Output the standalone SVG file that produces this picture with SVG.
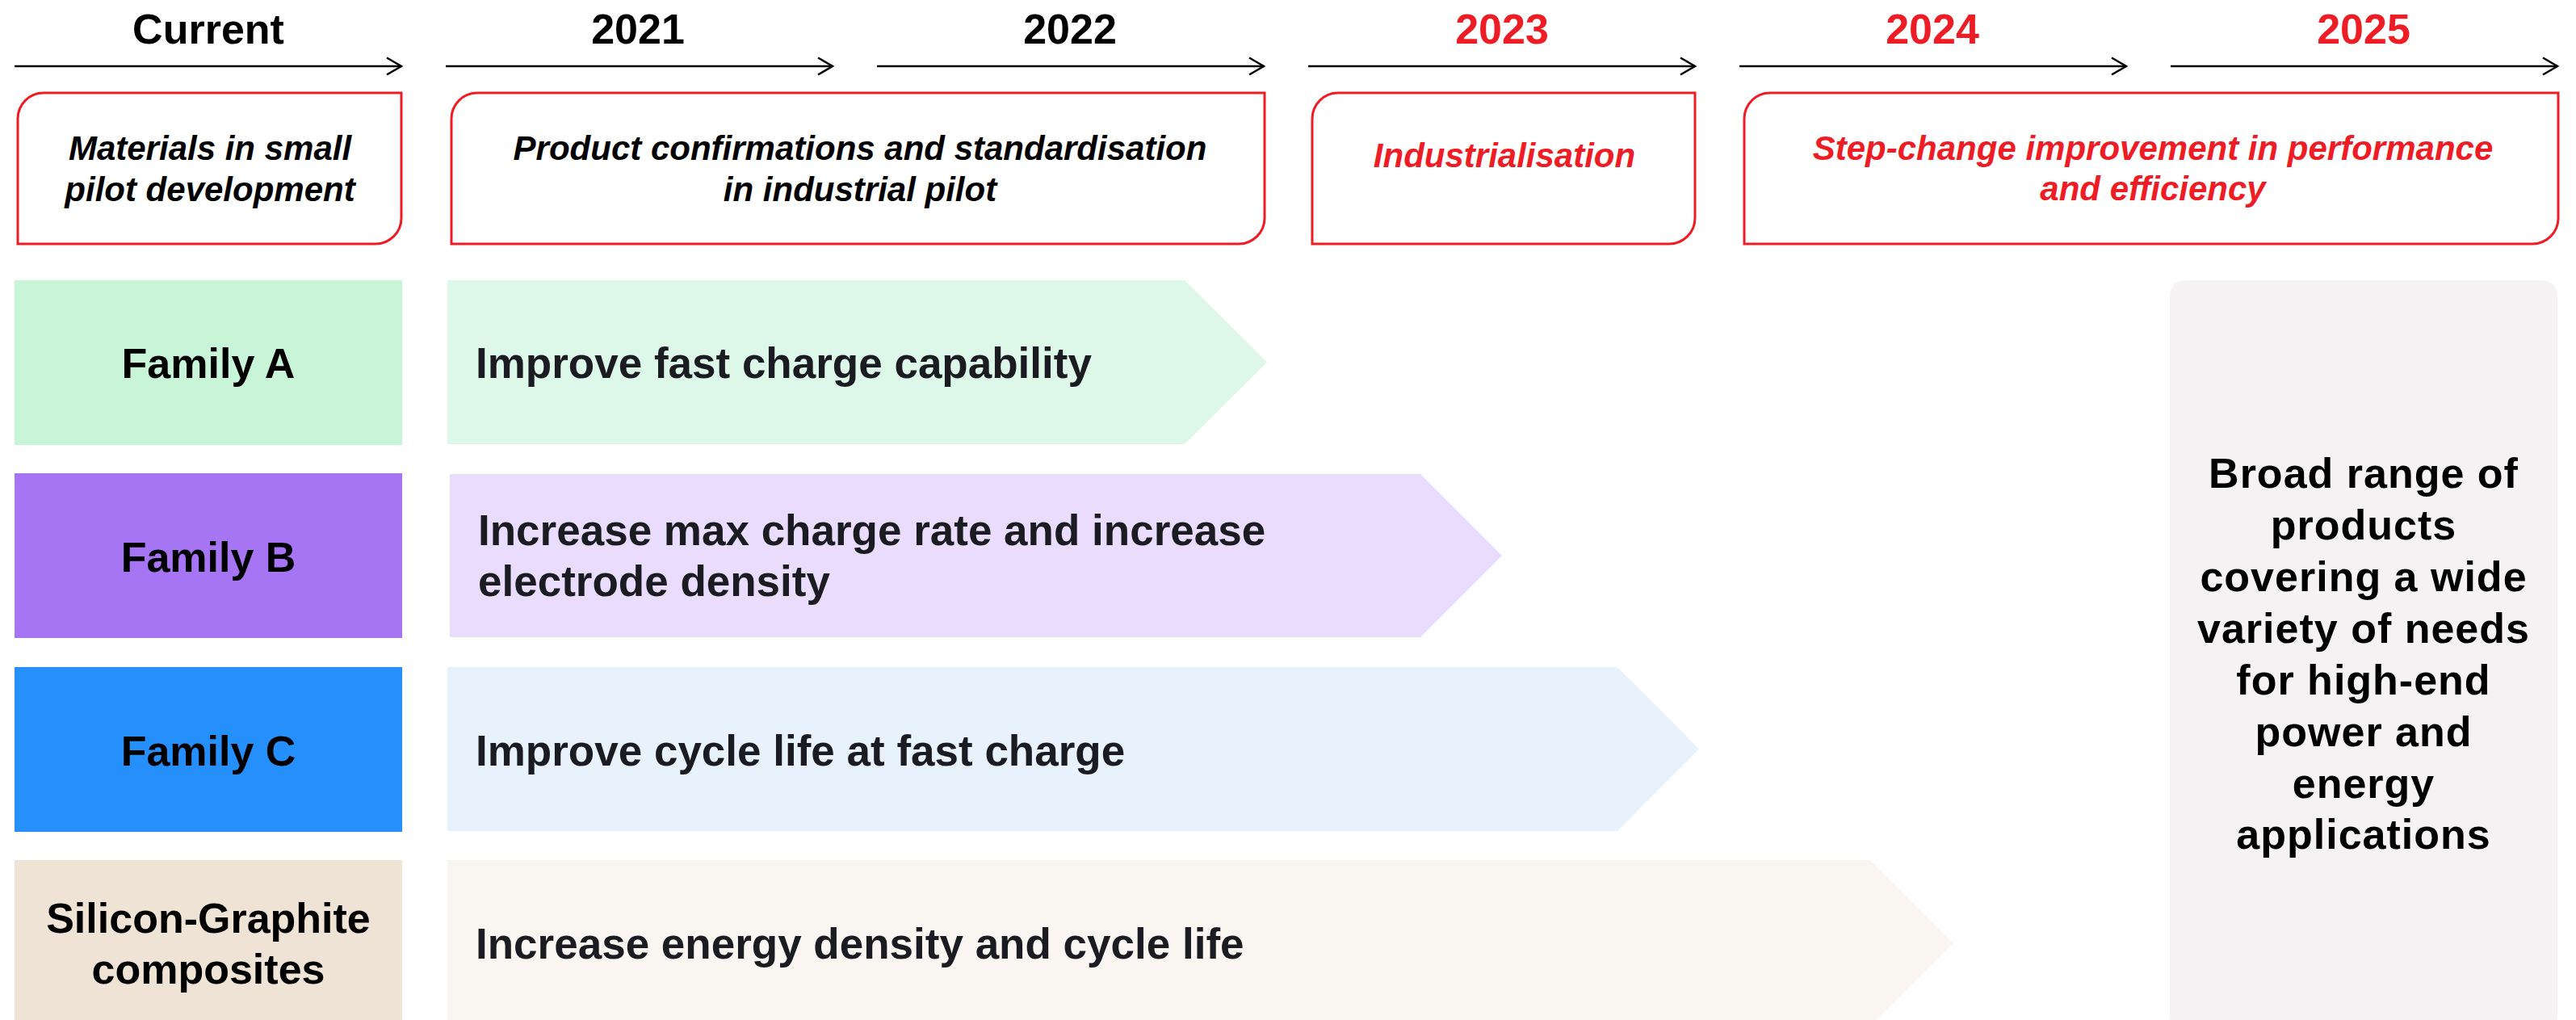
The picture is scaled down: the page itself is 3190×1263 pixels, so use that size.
<svg xmlns="http://www.w3.org/2000/svg" width="3190" height="1263" viewBox="0 0 3190 1263">
<defs>
<style>
.yr{font-family:"Liberation Sans",Arial,sans-serif;font-weight:bold;font-size:52px;text-anchor:middle}
.blk{fill:#000}
.red{fill:#ee1c24}
.hdr{fill:#fff;stroke:#ee1c24;stroke-width:3}
.ht{font-family:"Liberation Sans",Arial,sans-serif;font-weight:bold;font-style:italic;font-size:42px;text-anchor:middle}
.fam{font-family:"Liberation Sans",Arial,sans-serif;font-weight:bold;font-size:52px;text-anchor:middle;fill:#000}
.at{font-family:"Liberation Sans",Arial,sans-serif;font-weight:bold;font-size:53px;fill:#1a1c22}
.gt{font-family:"Liberation Sans",Arial,sans-serif;font-weight:bold;font-size:52px;letter-spacing:1px;text-anchor:middle;fill:#000}
.tl{stroke:#000;stroke-width:2.5;fill:none}
</style>
<marker id="chev" markerUnits="userSpaceOnUse" markerWidth="30" markerHeight="30" viewBox="-20 -15 30 30" refX="0" refY="0" orient="auto">
<path d="M-18,-10.5 L0,0 L-18,10.5" fill="none" stroke="#000" stroke-width="2.5"/>
</marker>
</defs>
<rect width="3190" height="1263" fill="#fff"/>

<g id="timeline">
<line class="tl" x1="18" y1="82" x2="497" y2="82" marker-end="url(#chev)"/>
<line class="tl" x1="552" y1="82" x2="1031" y2="82" marker-end="url(#chev)"/>
<line class="tl" x1="1086" y1="82" x2="1565" y2="82" marker-end="url(#chev)"/>
<line class="tl" x1="1620" y1="82" x2="2099" y2="82" marker-end="url(#chev)"/>
<line class="tl" x1="2154" y1="82" x2="2633" y2="82" marker-end="url(#chev)"/>
<line class="tl" x1="2688" y1="82" x2="3167" y2="82" marker-end="url(#chev)"/>
</g>

<g id="years">
<text class="yr blk" x="258" y="54">Current</text>
<text class="yr blk" x="790" y="54">2021</text>
<text class="yr blk" x="1325" y="54">2022</text>
<text class="yr red" x="1860" y="54">2023</text>
<text class="yr red" x="2393" y="54">2024</text>
<text class="yr red" x="2927" y="54">2025</text>
</g>

<g id="phase-current">
<path class="hdr" d="M54,115 H497 V270 A32,32 0 0 1 465,302 H22 V147 A32,32 0 0 1 54,115 Z"/>
<text class="ht blk" x="260" y="198">Materials in small</text>
<text class="ht blk" x="260" y="249">pilot development</text>
</g>
<g id="phase-pilot">
<path class="hdr" d="M591,115 H1566 V270 A32,32 0 0 1 1534,302 H559 V147 A32,32 0 0 1 591,115 Z"/>
<text class="ht blk" x="1065" y="198">Product confirmations and standardisation</text>
<text class="ht blk" x="1065" y="249">in industrial pilot</text>
</g>
<g id="phase-industrialisation">
<path class="hdr" d="M1657,115 H2099 V270 A32,32 0 0 1 2067,302 H1625 V147 A32,32 0 0 1 1657,115 Z"/>
<text class="ht red" x="1863" y="207">Industrialisation</text>
</g>
<g id="phase-stepchange">
<path class="hdr" d="M2192,115 H3168 V270 A32,32 0 0 1 3136,302 H2160 V147 A32,32 0 0 1 2192,115 Z"/>
<text class="ht red" x="2666" y="198">Step-change improvement in performance</text>
<text class="ht red" x="2666" y="248">and efficiency</text>
</g>

<g id="family-a">
<rect x="18" y="347" width="480" height="204" fill="#c8f5d7"/>
<text class="fam" x="258" y="468">Family A</text>
</g>
<g id="family-b">
<rect x="18" y="586" width="480" height="204" fill="#a675f4"/>
<text class="fam" x="258" y="708">Family B</text>
</g>
<g id="family-c">
<rect x="18" y="826" width="480" height="204" fill="#258ffc"/>
<text class="fam" x="258" y="948">Family C</text>
</g>
<g id="family-si">
<rect x="18" y="1065" width="480" height="206" fill="#efe3d6"/>
<text class="fam" x="258" y="1155">Silicon-Graphite</text>
<text class="fam" x="258" y="1218">composites</text>
</g>

<g id="goal-a">
<path d="M554,347 H1467 L1569,448.5 L1467,550 H554 Z" fill="#ddf7e8"/>
<text class="at" x="589" y="468">Improve fast charge capability</text>
</g>
<g id="goal-b">
<path d="M557,587 H1759 L1860,688 L1759,789 H557 Z" fill="#e9dcfc"/>
<text class="at" x="592" y="675">Increase max charge rate and increase</text>
<text class="at" x="592" y="738">electrode density</text>
</g>
<g id="goal-c">
<path d="M554,826 H2003 L2104,927.5 L2003,1029 H554 Z" fill="#e8f2fd"/>
<text class="at" x="589" y="948">Improve cycle life at fast charge</text>
</g>
<g id="goal-si">
<path d="M554,1065 H2316 L2419,1168 L2316,1271 H554 Z" fill="#f9f6f1"/>
<text class="at" x="589" y="1187">Increase energy density and cycle life</text>
</g>

<g id="outcome">
<rect x="2687" y="347" width="480" height="930" rx="19" ry="19" fill="#f4f2f3"/>
<text class="gt" x="2927" y="604">Broad range of</text>
<text class="gt" x="2927" y="668">products</text>
<text class="gt" x="2927" y="732">covering a wide</text>
<text class="gt" x="2927" y="796">variety of needs</text>
<text class="gt" x="2927" y="860">for high-end</text>
<text class="gt" x="2927" y="924">power and</text>
<text class="gt" x="2927" y="988">energy</text>
<text class="gt" x="2927" y="1051">applications</text>
</g>
</svg>
